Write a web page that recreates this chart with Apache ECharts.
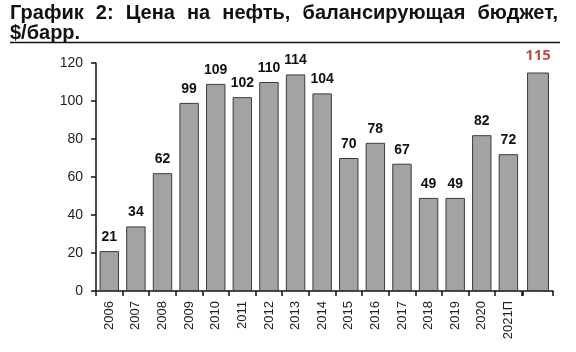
<!DOCTYPE html>
<html><head><meta charset="utf-8">
<script src="https://cdn.jsdelivr.net/npm/echarts@6/dist/echarts.min.js"></script>
<style>html,body{margin:0;padding:0;background:#fff}#c{width:576px;height:352px}</style>
</head><body><div id="c"></div>
<script>
const titleLine1 = 'График 2: Цена на нефть, балансирующая бюджет,';
const titleLine2 = '$/барр.';
const categories = ['2006','2007','2008','2009','2010','2011','2012','2013','2014','2015','2016','2017','2018','2019','2020','2021П'];
const values = [21,34,62,99,109,102,110,114,104,70,78,67,49,49,82,72];
const forecastCategories = [''];
const forecastValues = [115];
const yMin = 0, yMax = 120, yStep = 20;

const FONT = "'Liberation Sans', Arial, sans-serif";
const chart = echarts.init(document.getElementById('c'), null, {renderer:'canvas'});

// justify title line 1 across width
const ctx = document.createElement('canvas').getContext('2d');
ctx.font = "bold 20px 'Liberation Sans', Arial, sans-serif";
const words = titleLine1.split(' ');
const left = 10, right = 558;
const widths = words.map(w => ctx.measureText(w).width);
const total = widths.reduce((a,b)=>a+b,0);
const gap = (right-left-total)/(words.length-1);
const graphics = [];
let x = left;
words.forEach((w,i)=>{
  graphics.push({type:'text', left:x, top:3, style:{text:w, font:"bold 20px 'Liberation Sans', Arial, sans-serif", fill:'#111'}});
  x += widths[i] + gap;
});
graphics.push({type:'text', left:left, top:23, style:{text:titleLine2, font:"bold 20px 'Liberation Sans', Arial, sans-serif", fill:'#111'}});
graphics.push({type:'line', shape:{x1:10,y1:42.5,x2:560,y2:42.5}, style:{stroke:'#111', lineWidth:1.5}});

const barStyle = {color:'#a3a3a3', borderColor:'#3c3c3c', borderWidth:1};
chart.setOption({
  animation:false,
  graphic: graphics,
  grid:[
    {left:96, top:63, width:425.7, height:228},
    {left:523, top:63, width:30, height:228}
  ],
  xAxis:[
    {type:'category', gridIndex:0, data:categories,
     axisLine:{lineStyle:{color:'#111', width:1.5}},
     axisTick:{show:true, length:5, lineStyle:{color:'#111', width:1.5}},
     axisLabel:{rotate:90, fontSize:13, color:'#222', fontFamily:FONT, margin:10, interval:0}},
    {type:'category', gridIndex:1, data:forecastCategories,
     axisLine:{lineStyle:{color:'#111', width:1.5}},
     axisTick:{show:true, length:5, lineStyle:{color:'#111', width:1.5}},
     axisLabel:{show:false}}
  ],
  yAxis:[
    {type:'value', gridIndex:0, min:yMin, max:yMax, interval:yStep,
     splitLine:{show:false},
     axisLine:{show:true, lineStyle:{color:'#111', width:1.5}},
     axisTick:{show:true, length:5, lineStyle:{color:'#111', width:1.5}},
     axisLabel:{fontSize:14, color:'#222', fontFamily:FONT, margin:13}},
    {type:'value', gridIndex:1, min:yMin, max:yMax, interval:yStep, show:false, splitLine:{show:false}}
  ],
  series:[
    {type:'bar', xAxisIndex:0, yAxisIndex:0, data:values, barWidth:'73%', itemStyle:barStyle,
     label:{show:true, position:'top', distance:7, fontSize:14, fontWeight:'bold', color:'#111', fontFamily:FONT}},
    {type:'bar', xAxisIndex:1, yAxisIndex:1, data:forecastValues, barWidth:'73%', itemStyle:barStyle,
     label:{show:true, position:'top', distance:9, fontSize:15, fontWeight:'bold', color:'#c0504d', fontFamily:"'Open Sans', 'Liberation Sans', sans-serif"}}
  ]
});
</script></body></html>
